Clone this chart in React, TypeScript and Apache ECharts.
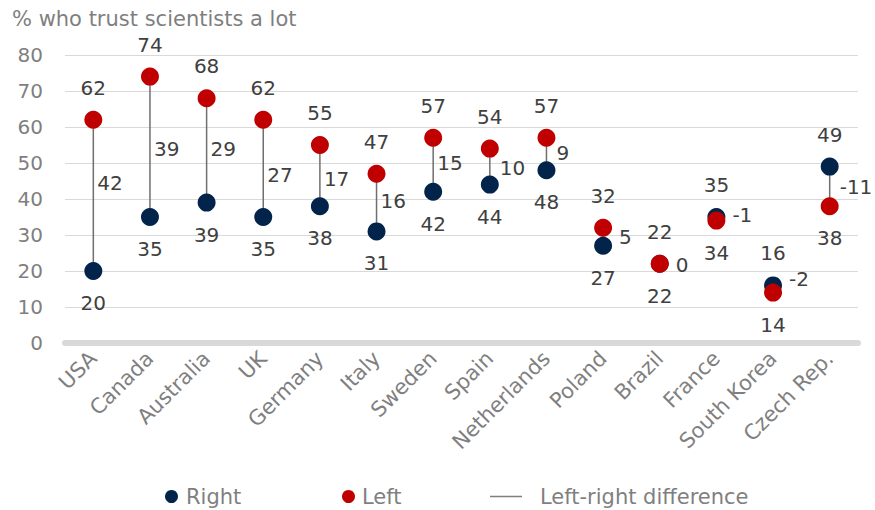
import React, { useEffect, useRef } from "react";
import * as echarts from "echarts";

const categories = ["USA", "Canada", "Australia", "UK", "Germany", "Italy", "Sweden", "Spain", "Netherlands", "Poland", "Brazil", "France", "South Korea", "Czech Rep."];
const rightValues = [20, 35, 39, 35, 38, 31, 42, 44, 48, 27, 22, 35, 16, 49];
const leftValues = [62, 74, 68, 62, 55, 47, 57, 54, 57, 32, 22, 34, 14, 38];
const differences = [42, 39, 29, 27, 17, 16, 15, 10, 9, 5, 0, -1, -2, -11];
// where each difference label sits, in axis units
const diffLabelAt = [44.4, 54, 54, 46.7, 45.6, 39.4, 50, 48.6, 52.8, 29.5, 21.7, 35.5, 17.8, 43.3];
const yTicks = { min: 0, max: 80, interval: 10 };

const FONT = "'DejaVu Sans', Verdana, sans-serif";
const NAVY = "#03244a";
const RED = "#c00000";
const LABEL = "#404040";
const GREY = "#7f7f7f";
const TEXT_SIZE = 21;
const NUM_SIZE = 20;

export default function App() {
  const ref = useRef<HTMLDivElement>(null);
  useEffect(() => {
    if (!ref.current) return;
    const chart = echarts.init(ref.current, null, { renderer: "svg" });
    const labelBase = { show: true, color: LABEL, fontSize: NUM_SIZE, fontFamily: FONT, distance: 13 };
    const legendText = { fontSize: TEXT_SIZE, color: GREY, fontFamily: FONT };
    chart.setOption({
      animation: false,
      textStyle: { fontFamily: FONT },
      title: {
        text: "% who trust scientists a lot",
        left: 7,
        top: 3,
        textStyle: { fontSize: TEXT_SIZE, fontWeight: "normal", color: GREY, fontFamily: FONT },
      },
      grid: { left: 65, right: 17, top: 55, bottom: 167, containLabel: false },
      legend: [
        { data: ["Right"], left: 165, top: 486, padding: 0, icon: "circle", itemWidth: 13, itemHeight: 13, textStyle: { ...legendText, padding: [0, 0, 0, 3] } },
        { data: ["Left"], left: 342, top: 486, padding: 0, icon: "circle", itemWidth: 13, itemHeight: 13, textStyle: { ...legendText, padding: [0, 0, 0, 2] } },
        { data: ["Left-right difference"], left: 490, top: 486, padding: 0, icon: "rect", itemWidth: 32, itemHeight: 1.5, textStyle: { ...legendText, padding: [0, 0, 0, 13] } },
      ],
      xAxis: {
        type: "category",
        data: categories,
        axisTick: { show: false },
        axisLine: { lineStyle: { color: "#d9d9d9", width: 6 } },
        axisLabel: { rotate: 45, interval: 0, color: GREY, fontSize: TEXT_SIZE, fontFamily: FONT, margin: 12 },
      },
      yAxis: {
        type: "value",
        min: yTicks.min,
        max: yTicks.max,
        interval: yTicks.interval,
        axisLine: { show: false },
        axisTick: { show: false },
        axisLabel: { color: GREY, fontSize: NUM_SIZE, fontFamily: FONT, margin: 22 },
        splitLine: { lineStyle: { color: "#d9d9d9", width: 1 } },
      },
      series: [
        {
          name: "Left-right difference",
          type: "custom",
          z: 1,
          itemStyle: { color: "#7f7f7f" },
          encode: { x: 0, y: [1, 2] },
          data: categories.map((_, i) => [i, leftValues[i], rightValues[i], differences[i], diffLabelAt[i]]),
          renderItem: (params: any, api: any) => {
            const i = api.value(0);
            const p1 = api.coord([i, api.value(1)]);
            const p2 = api.coord([i, api.value(2)]);
            const p3 = api.coord([i, api.value(4)]);
            const dist = Math.min(Math.abs(p3[1] - p1[1]), Math.abs(p3[1] - p2[1]));
            const dx = dist < 12 ? 16 : dist < 20 ? 10 : 4;
            return {
              type: "group",
              children: [
                { type: "line", shape: { x1: p1[0], y1: p1[1], x2: p2[0], y2: p2[1] }, style: { stroke: "#6f6f6f", lineWidth: 1.5 } },
                {
                  type: "text",
                  x: p3[0] + dx,
                  y: p3[1],
                  style: { text: String(api.value(3)), fill: LABEL, fontSize: NUM_SIZE, fontFamily: FONT, textAlign: "left", textVerticalAlign: "middle" },
                },
              ],
            };
          },
        },
        {
          name: "Right",
          type: "scatter",
          z: 2,
          symbolSize: 18,
          itemStyle: { color: NAVY, opacity: 1 },
          data: rightValues.map((v, i) => ({ value: v, label: { ...labelBase, position: v > leftValues[i] ? "top" : "bottom" } })),
        },
        {
          name: "Left",
          type: "scatter",
          z: 3,
          symbolSize: 18,
          itemStyle: { color: RED, opacity: 1 },
          data: leftValues.map((v, i) => ({ value: v, label: { ...labelBase, position: v >= rightValues[i] ? "top" : "bottom" } })),
        },
      ],
    });
    return () => chart.dispose();
  }, []);
  return <div ref={ref} style={{ position: "fixed", left: 0, top: 0, width: 875, height: 510, background: "#fff" }} />;
}
